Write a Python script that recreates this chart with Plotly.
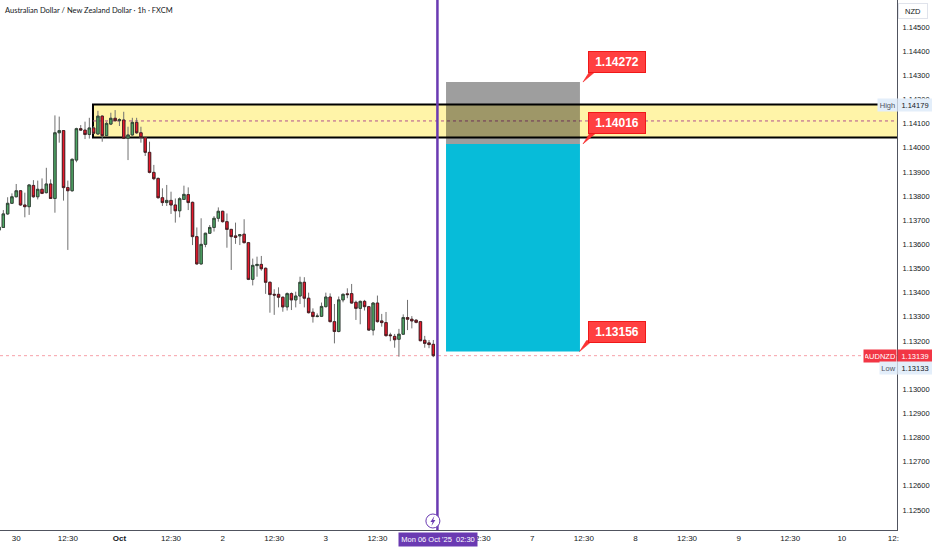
import plotly.graph_objects as go

# hourly AUDNZD candles
opens = [1.13659,1.13670,1.13726,1.13770,1.13797,1.13822,1.13763,1.13756,1.13844,1.13797,
1.13828,1.13814,1.13850,1.13790,1.14062,1.14071,1.13835,1.13822,1.13949,1.14079,
1.14073,1.14055,1.14082,1.14057,1.14131,1.14050,1.14098,1.14122,1.14112,1.14115,
1.14039,1.14053,1.14105,1.14062,1.14042,1.13981,1.13898,1.13873,1.13793,1.13773,
1.13782,1.13763,1.13739,1.13786,1.13806,1.13774,1.13632,1.13519,1.13600,1.13646,
1.13670,1.13708,1.13737,1.13694,1.13662,1.13635,1.13635,1.13642,1.13607,1.13455,
1.13512,1.13517,1.13501,1.13443,1.13393,1.13393,1.13381,1.13341,1.13396,1.13370,
1.13386,1.13443,1.13377,1.13319,1.13301,1.13302,1.13342,1.13382,1.13280,1.13239,
1.13370,1.13395,1.13396,1.13360,1.13335,1.13364,1.13342,1.13245,1.13357,1.13283,
1.13276,1.13225,1.13219,1.13207,1.13228,1.13297,1.13290,1.13286,1.13280,1.13203,
1.13192,1.13186]
highs = [1.13680,1.13742,1.13795,1.13811,1.13850,1.13825,1.13814,1.13848,1.13866,1.13864,
1.13873,1.13917,1.13869,1.14134,1.14129,1.14073,1.13864,1.13956,1.14083,1.14094,
1.14108,1.14124,1.14090,1.14153,1.14134,1.14108,1.14145,1.14156,1.14122,1.14149,
1.14087,1.14124,1.14124,1.14087,1.14046,1.14025,1.13929,1.13877,1.13832,1.13846,
1.13818,1.13790,1.13795,1.13843,1.13836,1.13777,1.13670,1.13708,1.13648,1.13680,
1.13717,1.13753,1.13739,1.13728,1.13664,1.13690,1.13643,1.13704,1.13610,1.13541,
1.13549,1.13552,1.13504,1.13446,1.13414,1.13422,1.13384,1.13401,1.13401,1.13404,
1.13466,1.13464,1.13400,1.13335,1.13314,1.13359,1.13400,1.13397,1.13353,1.13384,
1.13397,1.13418,1.13436,1.13367,1.13367,1.13370,1.13345,1.13360,1.13388,1.13312,
1.13320,1.13234,1.13229,1.13250,1.13310,1.13370,1.13303,1.13290,1.13283,1.13221,
1.13204,1.13204]
lows = [1.13657,1.13668,1.13722,1.13767,1.13795,1.13760,1.13712,1.13722,1.13793,1.13786,
1.13808,1.13811,1.13788,1.13731,1.14021,1.13781,1.13577,1.13818,1.13940,1.14071,
1.14036,1.14038,1.14057,1.14054,1.14025,1.14046,1.14094,1.14108,1.14090,1.14036,
1.13949,1.14050,1.14057,1.14021,1.13966,1.13894,1.13866,1.13790,1.13759,1.13759,
1.13726,1.13690,1.13712,1.13784,1.13742,1.13597,1.13516,1.13516,1.13588,1.13643,
1.13653,1.13694,1.13690,1.13586,1.13494,1.13602,1.13597,1.13604,1.13452,1.13430,
1.13466,1.13491,1.13395,1.13317,1.13308,1.13339,1.13321,1.13326,1.13328,1.13339,
1.13353,1.13339,1.13314,1.13276,1.13298,1.13299,1.13339,1.13277,1.13190,1.13236,
1.13360,1.13377,1.13355,1.13287,1.13269,1.13326,1.13243,1.13223,1.13276,1.13259,
1.13218,1.13199,1.13172,1.13135,1.13225,1.13245,1.13252,1.13273,1.13199,1.13172,
1.13170,1.13133]
closes = [1.13671,1.13726,1.13770,1.13797,1.13822,1.13763,1.13756,1.13846,1.13797,1.13828,
1.13811,1.13850,1.13790,1.14062,1.14071,1.13835,1.13822,1.13952,1.14079,1.14073,
1.14055,1.14082,1.14060,1.14131,1.14050,1.14101,1.14122,1.14112,1.14116,1.14039,
1.14053,1.14105,1.14062,1.14042,1.13981,1.13898,1.13872,1.13793,1.13773,1.13782,
1.13763,1.13739,1.13789,1.13807,1.13773,1.13632,1.13519,1.13600,1.13646,1.13670,
1.13708,1.13737,1.13694,1.13662,1.13632,1.13629,1.13640,1.13607,1.13455,1.13513,
1.13517,1.13499,1.13443,1.13392,1.13390,1.13381,1.13341,1.13396,1.13370,1.13386,
1.13443,1.13377,1.13317,1.13301,1.13303,1.13343,1.13382,1.13280,1.13239,1.13370,
1.13393,1.13392,1.13357,1.13335,1.13364,1.13342,1.13245,1.13357,1.13280,1.13276,
1.13222,1.13222,1.13205,1.13228,1.13297,1.13290,1.13283,1.13277,1.13201,1.13190,
1.13185,1.13139]

# time axis runs in bars (weekend is collapsed), 12 bars per label
x_tick_bars = [4,16,28,40,52,64,76,88,112,124,136,148,160,172,184,196,208]
x_tick_text = ["30","12:30","<b>Oct</b>","12:30","2","12:30","3","12:30","12:30","7","12:30","8","12:30","9","12:30","10","12:"]
y_ticks = [1.125,1.126,1.127,1.128,1.129,1.130,1.131,1.132,1.133,1.134,1.135,1.136,1.137,1.138,1.139,1.140,1.141,1.142,1.143,1.144,1.145]

zone_high = 1.14179
zone_mid = 1.14111
zone_low = 1.14042
stop_price = 1.14272
entry_price = 1.14016
target_price = 1.13156
last_price = 1.13139
low_price = 1.13133
low_label_price = 1.13088  # label sits just under the last price tag
zone_start_bar = 21.85
pos_start_bar = 103.95
pos_end_bar = 135.1
now_bar = 101.95
x_range = [0.2256, 208.83]
y_range = [1.124172, 1.146118]

FONT = "Liberation Sans, sans-serif"
INK = "#131722"
RED = "#f23645"
PURPLE = "#6a3ab2"
bars = list(range(len(opens)))

fig = go.Figure()

# wicks first in grey, then the bodies with a dark edge on top
fig.add_trace(go.Candlestick(
    x=bars, open=opens, high=highs, low=lows, close=closes,
    increasing=dict(line=dict(color="#707070", width=1), fillcolor="#4fa866"),
    decreasing=dict(line=dict(color="#707070", width=1), fillcolor="#e8192c"),
    whiskerwidth=0, showlegend=False, hoverinfo="skip",
))
body_high = [max(o, c) for o, c in zip(opens, closes)]
body_low = [min(o, c) for o, c in zip(opens, closes)]
fig.add_trace(go.Candlestick(
    x=bars, open=opens, high=body_high, low=body_low, close=closes,
    increasing=dict(line=dict(color="#2c3a30", width=0.8), fillcolor="#4fa866"),
    decreasing=dict(line=dict(color="#3a1c20", width=0.8), fillcolor="#e8192c"),
    whiskerwidth=0, showlegend=False, hoverinfo="skip",
))

shapes = [
    # supply zone
    dict(type="rect", layer="below", x0=zone_start_bar, x1=x_range[1] + 2, y0=zone_low, y1=zone_high,
         fillcolor="#fff4a8", line=dict(color="black", width=2)),
    dict(type="line", layer="below", x0=zone_start_bar, x1=x_range[1], y0=zone_mid, y1=zone_mid,
         line=dict(color="#b0508f", width=1, dash="3px,3px")),
    # short position box
    dict(type="rect", layer="below", x0=pos_start_bar, x1=pos_end_bar, y0=entry_price, y1=stop_price,
         fillcolor="rgba(0,0,0,0.38)", line=dict(width=0)),
    dict(type="rect", layer="below", x0=pos_start_bar, x1=pos_end_bar, y0=target_price, y1=entry_price,
         fillcolor="#07bcd9", line=dict(width=0)),
    # last price
    dict(type="line", layer="below", x0=x_range[0], x1=x_range[1], y0=last_price, y1=last_price,
         line=dict(color="#f7a0a8", width=1, dash="dot")),
    # vertical marker
    dict(type="line", x0=now_bar, x1=now_bar, yref="paper", y0=0, y1=1,
         line=dict(color=PURPLE, width=2.5)),
    dict(type="circle", xsizemode="pixel", ysizemode="pixel", xanchor=now_bar - 1.05, yanchor=0,
         yref="paper", x0=-7, x1=7, y0=2, y1=16, fillcolor="white",
         line=dict(color=PURPLE, width=1)),
    dict(type="path", xsizemode="pixel", ysizemode="pixel", xanchor=now_bar - 1.05, yanchor=0,
         yref="paper", path="M 1.5 14 L -2.5 8 L -0.3 8 L -1.5 4 L 2.5 10 L 0.3 10 Z",
         fillcolor=PURPLE, line=dict(width=0)),
]

annotations = []

# red price callouts on the position box
for price, tip_bar, dx, dy in [(stop_price, 135.8, 34, 20.5), (entry_price, 135.8, 34, 20.5), (target_price, 135.0, 37.5, 20)]:
    shapes.append(dict(
        type="path", xsizemode="pixel", ysizemode="pixel", xanchor=tip_bar, yanchor=price,
        path="M 0 0 L 7 11 L 13 11 Z", fillcolor="#ff3333", line=dict(color="#f01818", width=0.5),
    ))
    annotations.append(dict(
        x=tip_bar, y=price, xshift=dx, yshift=dy, text="<b>%.5f</b>" % price, showarrow=False,
        bgcolor="#ff4040", bordercolor="#f01818", borderwidth=1, borderpad=3,
        width=50, height=14,
        font=dict(family=FONT, size=12, color="white"),
    ))

# scale labels at the right edge
def scale_label(text, px, price, w, bg, color):
    annotations.append(dict(
        xref="paper", yref="y", x=px, y=price, xanchor="center", yanchor="middle",
        text=text, showarrow=False, width=w, height=10, bgcolor=bg, borderpad=1,
        font=dict(family=FONT, size=7.5, color=color),
    ))

P = 897.0
scale_label("High", 887 / P, zone_high, 17, "#e3eefa", "#50535e")
scale_label("%.5f" % zone_high, 915 / P, zone_high, 32, "#e3eefa", INK)
scale_label("AUDNZD", 880 / P, last_price, 30, RED, "white")
scale_label("%.5f" % last_price, 915 / P, last_price, 32, RED, "white")
scale_label("Low", 888 / P, low_label_price, 15, "#e3eefa", "#50535e")
scale_label("%.5f" % low_price, 915 / P, low_label_price, 32, "#e3eefa", INK)

annotations.append(dict(
    xref="paper", yref="paper", x=913 / P, y=1.0, xanchor="center", yanchor="top", yshift=-3,
    text="NZD", showarrow=False, width=26, height=12, bgcolor="white",
    bordercolor="#e0e3eb", borderwidth=1, borderpad=1,
    font=dict(family=FONT, size=7.5, color=INK),
))
annotations.append(dict(
    xref="paper", yref="paper", x=4 / P, y=1.0, xanchor="left", yanchor="top", yshift=-5,
    text="Australian Dollar / New Zealand Dollar · 1h · FXCM", showarrow=False, borderpad=0,
    font=dict(family="Lato", size=7.5, color=INK),
))
annotations.append(dict(
    x=now_bar + 0.1, yref="paper", y=0, yanchor="top", yshift=-1.5,
    text="Mon 06 Oct '25  02:30", showarrow=False, width=76, height=11,
    bgcolor=PURPLE, borderpad=1,
    font=dict(family=FONT, size=7.5, color="white"),
))

fig.update_layout(
    width=932, height=550,
    margin=dict(l=0, r=35, t=0, b=20),
    paper_bgcolor="white", plot_bgcolor="white",
    boxgap=0.2,
    shapes=shapes, annotations=annotations,
    font=dict(family=FONT, size=8, color=INK),
    xaxis=dict(range=x_range, rangeslider=dict(visible=False), showgrid=False, zeroline=False,
               tickmode="array", tickvals=x_tick_bars, ticktext=x_tick_text,
               showline=True, linecolor="#50535e", linewidth=1, ticks="",
               tickfont=dict(family=FONT, size=8, color=INK)),
    yaxis=dict(range=y_range, side="right", showgrid=False, zeroline=False,
               tickmode="array", tickvals=y_ticks, ticktext=["%.5f" % v for v in y_ticks],
               showline=True, linecolor="#50535e", linewidth=1,
               ticks="outside", ticklen=3, tickcolor="white",
               tickfont=dict(family=FONT, size=7.5, color=INK)),
)

# page margin would otherwise push the fixed-size figure off the window
fig.write_html("out.html", config=dict(displayModeBar=False),
               post_script="document.body.style.margin='0';document.documentElement.style.overflow='hidden';")
